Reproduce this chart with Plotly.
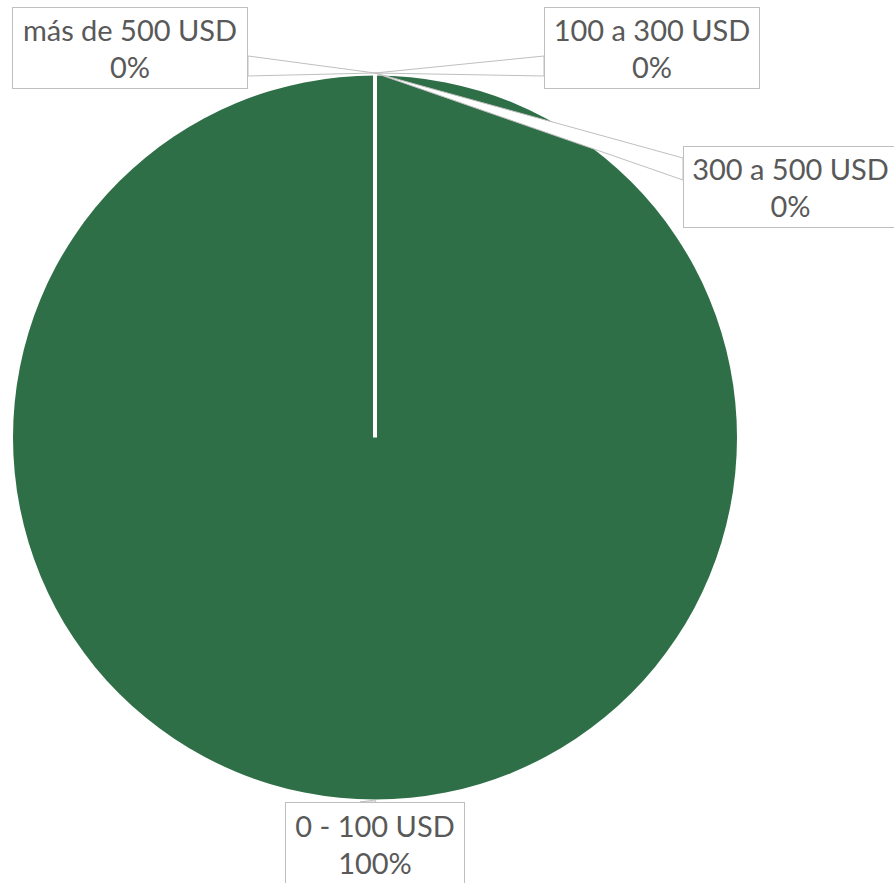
"""Pie chart: distribution by spending range (USD)."""
import plotly.graph_objects as go

# data
categories = ["0 - 100 USD", "100 a 300 USD", "300 a 500 USD", "más de 500 USD"]
values = [100, 0, 0, 0]

W, H = 894, 883
GREEN = "#2F6F47"
GREY_LINE = "#BFBFBF"
TEXT = "#595959"
FONT = "Lato, Open Sans, sans-serif"

# pie domain (paper units, margins are zero)
dom_x = [13 / W, 737 / W]
dom_y = [1 - 800 / H, 1 - 75 / H]

# callout boxes in pixels: (x0, y0, x1, y1) and the wedge base points
boxes = {
    "0 - 100 USD": ((285, 802, 465, 886), [(360, 802), (376, 802)]),
    "100 a 300 USD": ((544, 7, 760, 89), [(544, 56), (544, 76)]),
    "300 a 500 USD": ((683, 146, 898, 228), [(683, 158), (683, 180)]),
    "más de 500 USD": ((12, 7, 248, 89), [(248, 56), (248, 76)]),
}


def px(x):
    return x / W


def py(y):
    return 1 - y / H


fig = go.Figure(go.Pie(
    labels=categories, values=values, sort=False, direction="clockwise",
    marker=dict(colors=[GREEN, "#5B9BD5", "#A5A5A5", "#FFC000"],
                line=dict(color="white", width=0)),
    textinfo="none", hoverinfo="label+percent", showlegend=False,
    domain=dict(x=dom_x, y=dom_y),
))

cx = (dom_x[0] + dom_x[1]) / 2
cy = (dom_y[0] + dom_y[1]) / 2
top_y = dom_y[1]

# white separator where the empty slices sit (12 o'clock)
fig.add_shape(type="line", xref="paper", yref="paper",
              x0=cx, y0=cy, x1=cx, y1=top_y,
              line=dict(color="white", width=4))

total = sum(values)
tip_top = (cx, py(H * (1 - top_y) - 2))
tip_bottom = (cx, dom_y[0])
for label, val in zip(categories, values):
    (x0, y0, x1, y1), base = boxes[label]
    tip = tip_bottom if val > 0 else tip_top
    (bx0, by0), (bx1, by1) = base
    path = (f"M {px(bx0)},{py(by0)} L {tip[0]},{tip[1]} "
            f"L {px(bx1)},{py(by1)} Z")
    fig.add_shape(type="path", xref="paper", yref="paper", path=path,
                  fillcolor="white", line=dict(color=GREY_LINE, width=1))
    fig.add_annotation(
        xref="paper", yref="paper",
        x=px((x0 + x1) / 2), y=py((y0 + y1) / 2),
        xanchor="center", yanchor="middle", showarrow=False,
        text=f"{label}<br>{100 * val / total:.0f}%",
        width=x1 - x0 - 2, height=y1 - y0 - 2, borderpad=0,
        bgcolor="white", bordercolor=GREY_LINE, borderwidth=1,
        font=dict(family=FONT, size=29, color=TEXT), align="center",
    )

fig.update_layout(
    width=W, height=H, margin=dict(l=0, r=0, t=0, b=0),
    paper_bgcolor="white", plot_bgcolor="white",
)

fig.write_html("out.html", config={"displayModeBar": False},
               post_script="document.body.style.margin='0';"
                           "document.body.style.overflow='hidden';")
